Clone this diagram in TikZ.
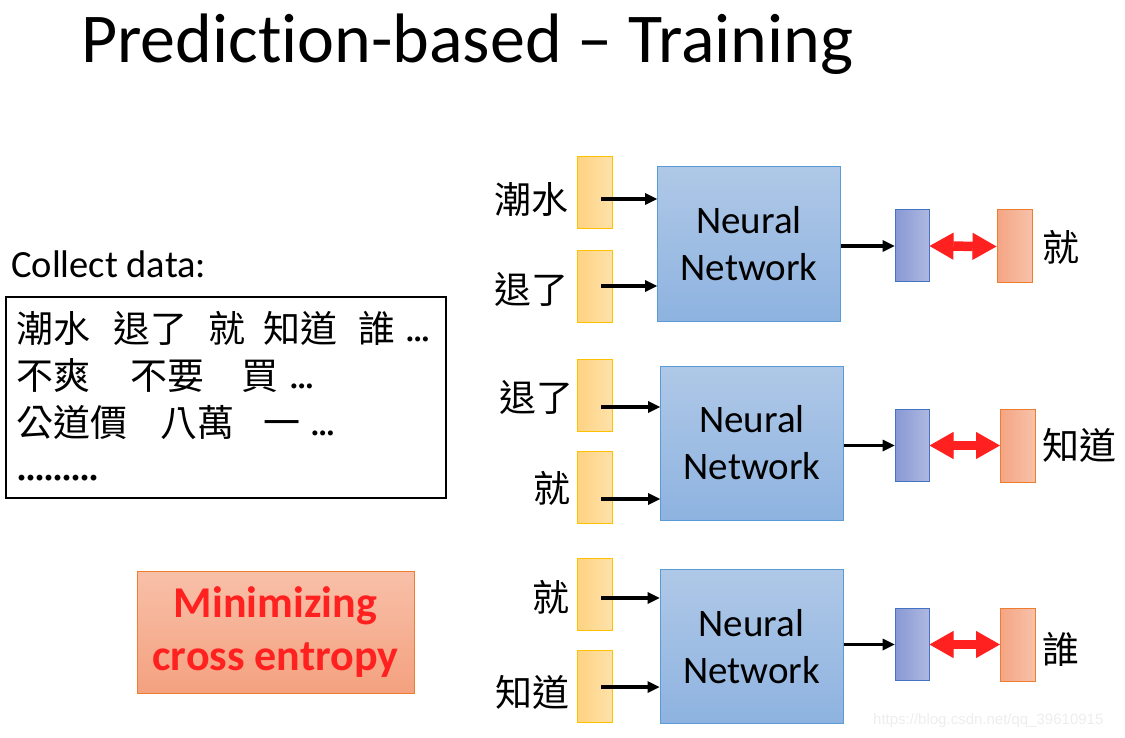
\documentclass[tikz,border=0pt]{standalone}
\usepackage{fontspec}
\setmainfont{Carlito}[Ligatures=CommonOff]
\newfontfamily\cjk{Noto Sans CJK TC}
\newfontfamily\dotsfont{Liberation Serif}
\newfontfamily\wmfont{Liberation Sans}
\usetikzlibrary{arrows.meta}
\definecolor{nnTop}{HTML}{AFC8E7}
\definecolor{nnBot}{HTML}{8EB3E0}
\definecolor{nnBorder}{HTML}{5B9BD5}
\definecolor{inL}{HTML}{FED382}
\definecolor{inR}{HTML}{FEE2AA}
\definecolor{inBorder}{HTML}{FFC000}
\definecolor{outL}{HTML}{8898D4}
\definecolor{outR}{HTML}{AEB8E0}
\definecolor{outBorder}{HTML}{4472C4}
\definecolor{tgL}{HTML}{F4A583}
\definecolor{tgR}{HTML}{F8C2AA}
\definecolor{tgBorder}{HTML}{ED7D31}
\definecolor{minTop}{HTML}{F8C0A9}
\definecolor{minBot}{HTML}{F4A17F}
\definecolor{redText}{HTML}{FF2020}
\definecolor{redArrow}{HTML}{FF2020}
\definecolor{wmGray}{HTML}{EDEDED}
\begin{document}
\begin{tikzpicture}[x=1pt,y=-1pt,
  inbox/.style={draw=inBorder, line width=1pt, left color=inL, right color=inR,
    minimum width=35pt, minimum height=72pt, inner sep=0pt},
  outbox/.style={draw=outBorder, line width=1pt, left color=outL, right color=outR,
    minimum width=34pt, minimum height=72pt, inner sep=0pt},
  tgbox/.style={draw=tgBorder, line width=1pt, left color=tgL, right color=tgR,
    minimum width=35pt, minimum height=73pt, inner sep=0pt},
  nnbox/.style={draw=nnBorder, line width=1pt, top color=nnTop, bottom color=nnBot,
    minimum width=183pt, minimum height=154pt, inner sep=0pt, align=center,
    font=\fontsize{39}{47}\selectfont},
  cjklab/.style={inner sep=0pt, font=\cjk\fontsize{37}{44}\selectfont},
  word/.style={inner sep=0pt, anchor=base west, font=\cjk\fontsize{37}{44}\selectfont},
  ell/.style={inner sep=0pt, anchor=base west, font=\dotsfont\bfseries\fontsize{31}{34}\selectfont},
  arr/.style={draw=black, line width=3.5pt, -{Triangle[length=12pt,width=12pt,line width=0pt]}},
  redarr/.style={draw=redArrow, line width=9.5pt,
    {Triangle[length=24pt,width=27pt,line width=1pt]}-{Triangle[length=24pt,width=27pt,line width=1pt]}},
]
\useasboundingbox (0,0) rectangle (1125,738);

% title
\node[inner sep=0pt, anchor=base west, font=\fontsize{70}{80}\selectfont] (title) at (81,63) {Prediction-based -- Training};

% collect data
\node[inner sep=0pt, anchor=base west, font=\fontsize{38.5}{44}\selectfont] (collect) at (11,278) {Collect data:};
\node[draw=black, line width=1.3pt, minimum width=440pt, minimum height=201pt, inner sep=0pt] (tb) at (226,397.5) {};

% line 1
\node[word] (w11) at (16,342.5) {潮水};
\node[word] (w12) at (113,342.5) {退了};
\node[word] (w13) at (208,342.5) {就};
\node[word] (w14) at (263,342.5) {知道};
\node[word] (w15) at (358,342.5) {誰};
\node[ell] (e1) at (406,341) {...};
% line 2
\node[word] (w21) at (16,389) {不爽};
\node[word] (w22) at (130,389) {不要};
\node[word] (w23) at (241,389) {買};
\node[ell] (e2) at (290,388) {...};
% line 3
\node[word] (w31) at (16,436) {公道價};
\node[word] (w32) at (160,436) {八萬};
\node[word] (w33) at (263,436) {一};
\node[ell] (e3) at (311,435) {...};
% line 4
\node[inner sep=0pt, anchor=base west, font=\dotsfont\bfseries\fontsize{36}{44}\selectfont] (e4) at (17,480) {.........};

% minimizing box
\node[draw=tgBorder, line width=1pt, top color=minTop, bottom color=minBot,
  minimum width=277pt, minimum height=122pt, inner sep=0pt, align=center,
  text=redText, font=\bfseries\fontsize{44}{53}\selectfont] (minbox) at (275.5,632)
  {Minimizing\\cross entropy};

% ---------- group 1 ----------
\node[inbox] (in1a) at (595,193) {};
\node[inbox] (in1b) at (595,286.5) {};
\node[nnbox] (nn1) at (749,244) {Neural\\Network};
\node[outbox] (out1) at (912,246) {};
\node[tgbox] (tg1) at (1014.5,246.5) {};
\node[cjklab, anchor=east] (l1a) at (569,199) {潮水};
\node[cjklab, anchor=east] (l1b) at (569,289) {退了};
\node[cjklab, anchor=west] (t1) at (1042,247) {就};
\coordinate (s1a) at (601,199);
\coordinate (s1b) at (601,286);
\draw[arr] (s1a) -- (s1a -| nn1.west);
\draw[arr] (s1b) -- (s1b -| nn1.west);
\draw[arr] (nn1.east |- out1.west) -- (out1.west);
\draw[redarr] (out1.east) -- (tg1.west);

% ---------- group 2 ----------
\node[inbox] (in2a) at (595,395) {};
\node[inbox] (in2b) at (595,487.5) {};
\node[nnbox] (nn2) at (752,443) {Neural\\Network};
\node[outbox] (out2) at (912,445.5) {};
\node[tgbox] (tg2) at (1018,445.5) {};
\node[cjklab, anchor=east] (l2a) at (574,397) {退了};
\node[cjklab, anchor=east] (l2b) at (571,488) {就};
\node[cjklab, anchor=west] (t2) at (1042,445) {知道};
\coordinate (s2a) at (601,407);
\coordinate (s2b) at (601,499);
\draw[arr] (s2a) -- (s2a -| nn2.west);
\draw[arr] (s2b) -- (s2b -| nn2.west);
\draw[arr] (nn2.east |- out2.west) -- (out2.west);
\draw[redarr] (out2.east) -- (tg2.west);

% ---------- group 3 ----------
\node[inbox] (in3a) at (595,594) {};
\node[inbox] (in3b) at (595,686.5) {};
\node[nnbox] (nn3) at (751.5,646.5) {Neural\\Network};
\node[outbox] (out3) at (912,644.5) {};
\node[tgbox] (tg3) at (1018,644.5) {};
\node[cjklab, anchor=east] (l3a) at (570,597) {就};
\node[cjklab, anchor=east] (l3b) at (570,692) {知道};
\node[cjklab, anchor=west] (t3) at (1042,649) {誰};
\coordinate (s3a) at (601,598);
\coordinate (s3b) at (601,687);
\draw[arr] (s3a) -- (s3a -| nn3.west);
\draw[arr] (s3b) -- (s3b -| nn3.west);
\draw[arr] (nn3.east |- out3.west) -- (out3.west);
\draw[redarr] (out3.east) -- (tg3.west);

% watermark
\node[inner sep=0pt, anchor=base west, text=wmGray, font=\wmfont\fontsize{15}{18}\selectfont] (wm) at (873,724) {https://blog.csdn.net/qq\_39610915};
\end{tikzpicture}
\end{document}
